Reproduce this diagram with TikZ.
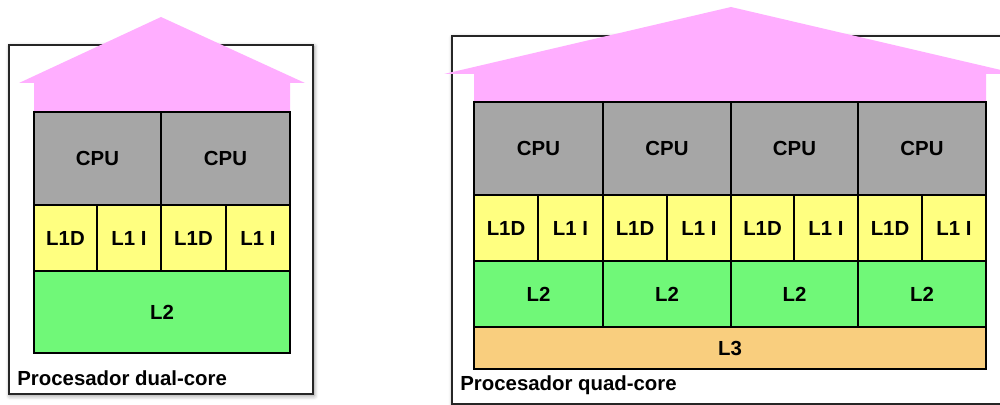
\documentclass[tikz,border=0pt]{standalone}
\usepackage{fontspec}
\setmainfont{Liberation Sans}
\usetikzlibrary{shadows.blur}

\definecolor{roofpink}{HTML}{FFAEFF}
\definecolor{cpugray}{HTML}{A6A6A6}
\definecolor{lonecol}{HTML}{FFFF80}
\definecolor{ltwocol}{HTML}{70F878}
\definecolor{lthreecol}{HTML}{F9CE7E}

\tikzset{
  cellbox/.style={draw=black, line width=0.6pt, inner sep=0pt, outer sep=0pt,
    font=\fontsize{11.6}{13}\selectfont\bfseries},
  framebox/.style={draw=black!85, line width=0.8pt, fill=white,
    blur shadow={shadow xshift=0.6pt, shadow yshift=-1pt, shadow blur radius=2.5pt, shadow opacity=45}},
  roof/.style={fill=roofpink, draw=none},
  caption/.style={anchor=west, inner sep=0pt, font=\fontsize{11.6}{13}\selectfont\bfseries},
}

% a cell of the chip, given by its corners in pixel units
\newcommand\chipcell[7]{%
  \node[cellbox, fill=#6, minimum width={(#4-#2)*0.2mm}, minimum height={(#5-#3)*0.2mm}]
    (#1) at ({(#2+#4)/2},{(#3+#5)/2}) {#7};}

\begin{document}
\begin{tikzpicture}[x=0.2mm, y=-0.2mm]
\useasboundingbox (0,0) rectangle (1000,405);
\clip (0,0) rectangle (1000,405);

% ---------- dual-core ----------
\path[framebox] (9,45) rectangle (313,394);
\path[roof] (19,83) -- (161,17) -- (305,83) -- (290,83) -- (290,113) -- (34,113) -- (34,83) -- cycle;
\chipcell{dcpuA}{34}{112}{161}{205}{cpugray}{CPU}
\chipcell{dcpuB}{161}{112}{290}{205}{cpugray}{CPU}
\chipcell{ddA}{34}{205}{97}{271}{lonecol}{L1D}
\chipcell{diA}{97}{205}{161}{271}{lonecol}{L1 I}
\chipcell{ddB}{161}{205}{226}{271}{lonecol}{L1D}
\chipcell{diB}{226}{205}{290}{271}{lonecol}{L1 I}
\chipcell{dltwo}{34}{271}{290}{353}{ltwocol}{L2}
\node[caption] (dlabel) at (17,378) {Procesador dual-core};

% ---------- quad-core ----------
\path[framebox] (452,36) rectangle (1012,404);
\path[roof] (444,74) -- (731,7) -- (1018,74) -- (986,74) -- (986,103) -- (474,103) -- (474,74) -- cycle;
\chipcell{qcpuA}{474}{102}{603}{195}{cpugray}{CPU}
\chipcell{qcpuB}{603}{102}{731}{195}{cpugray}{CPU}
\chipcell{qcpuC}{731}{102}{858}{195}{cpugray}{CPU}
\chipcell{qcpuD}{858}{102}{986}{195}{cpugray}{CPU}
\chipcell{qdA}{474}{195}{538}{261}{lonecol}{L1D}
\chipcell{qiA}{538}{195}{603}{261}{lonecol}{L1 I}
\chipcell{qdB}{603}{195}{667}{261}{lonecol}{L1D}
\chipcell{qiB}{667}{195}{731}{261}{lonecol}{L1 I}
\chipcell{qdC}{731}{195}{794}{261}{lonecol}{L1D}
\chipcell{qiC}{794}{195}{858}{261}{lonecol}{L1 I}
\chipcell{qdD}{858}{195}{922}{261}{lonecol}{L1D}
\chipcell{qiD}{922}{195}{986}{261}{lonecol}{L1 I}
\chipcell{qltwoA}{474}{261}{603}{327}{ltwocol}{L2}
\chipcell{qltwoB}{603}{261}{731}{327}{ltwocol}{L2}
\chipcell{qltwoC}{731}{261}{858}{327}{ltwocol}{L2}
\chipcell{qltwoD}{858}{261}{986}{327}{ltwocol}{L2}
\chipcell{qlthree}{474}{327}{986}{369}{lthreecol}{L3}
\node[caption] (qlabel) at (460,385) {Procesador quad-core};
\end{tikzpicture}
\end{document}
